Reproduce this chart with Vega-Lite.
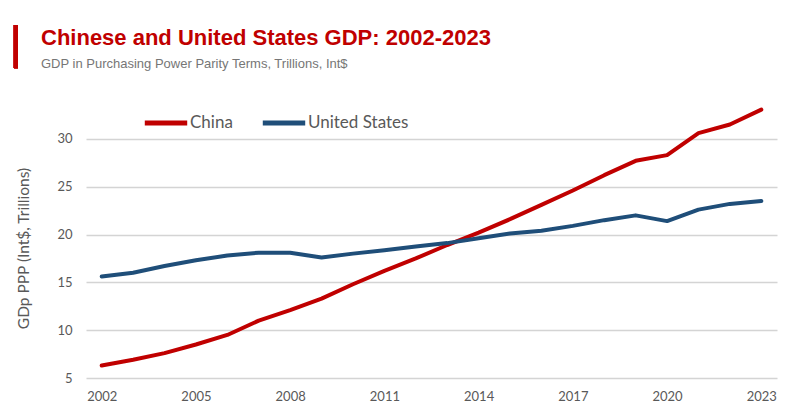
{
  "$schema": "https://vega.github.io/schema/vega-lite/v6.json",
  "autosize": "none",
  "width": 691,
  "height": 287,
  "padding": {"left": 86, "top": 91, "right": 23, "bottom": 42},
  "background": "white",
  "title": {
    "text": "Chinese and United States GDP: 2002-2023",
    "subtitle": "GDP in Purchasing Power Parity Terms, Trillions, Int$",
    "anchor": "start",
    "frame": "group",
    "dx": -45,
    "offset": -49,
    "font": "Liberation Sans",
    "fontSize": 22,
    "fontWeight": "bold",
    "color": "#C00000",
    "subtitleFont": "Liberation Sans",
    "subtitleFontSize": 13,
    "subtitleColor": "#767676",
    "subtitlePadding": 8
  },
  "config": {
    "view": {"stroke": null},
    "font": "Lato"
  },
  "data": {
    "values": [
      {"year": 2002, "country": "China", "gdp": 6.3},
      {"year": 2003, "country": "China", "gdp": 6.9},
      {"year": 2004, "country": "China", "gdp": 7.6},
      {"year": 2005, "country": "China", "gdp": 8.5},
      {"year": 2006, "country": "China", "gdp": 9.5},
      {"year": 2007, "country": "China", "gdp": 11.0},
      {"year": 2008, "country": "China", "gdp": 12.1},
      {"year": 2009, "country": "China", "gdp": 13.3},
      {"year": 2010, "country": "China", "gdp": 14.8},
      {"year": 2011, "country": "China", "gdp": 16.2},
      {"year": 2012, "country": "China", "gdp": 17.5},
      {"year": 2013, "country": "China", "gdp": 18.9},
      {"year": 2014, "country": "China", "gdp": 20.2},
      {"year": 2015, "country": "China", "gdp": 21.6},
      {"year": 2016, "country": "China", "gdp": 23.1},
      {"year": 2017, "country": "China", "gdp": 24.6},
      {"year": 2018, "country": "China", "gdp": 26.2},
      {"year": 2019, "country": "China", "gdp": 27.7},
      {"year": 2020, "country": "China", "gdp": 28.3},
      {"year": 2021, "country": "China", "gdp": 30.6},
      {"year": 2022, "country": "China", "gdp": 31.5},
      {"year": 2023, "country": "China", "gdp": 33.05},
      {"year": 2002, "country": "United States", "gdp": 15.6},
      {"year": 2003, "country": "United States", "gdp": 16.0},
      {"year": 2004, "country": "United States", "gdp": 16.7},
      {"year": 2005, "country": "United States", "gdp": 17.3},
      {"year": 2006, "country": "United States", "gdp": 17.8},
      {"year": 2007, "country": "United States", "gdp": 18.1},
      {"year": 2008, "country": "United States", "gdp": 18.1},
      {"year": 2009, "country": "United States", "gdp": 17.6},
      {"year": 2010, "country": "United States", "gdp": 18.0},
      {"year": 2011, "country": "United States", "gdp": 18.35},
      {"year": 2012, "country": "United States", "gdp": 18.75},
      {"year": 2013, "country": "United States", "gdp": 19.1},
      {"year": 2014, "country": "United States", "gdp": 19.6},
      {"year": 2015, "country": "United States", "gdp": 20.1},
      {"year": 2016, "country": "United States", "gdp": 20.4},
      {"year": 2017, "country": "United States", "gdp": 20.9},
      {"year": 2018, "country": "United States", "gdp": 21.5},
      {"year": 2019, "country": "United States", "gdp": 22.0},
      {"year": 2020, "country": "United States", "gdp": 21.4},
      {"year": 2021, "country": "United States", "gdp": 22.6},
      {"year": 2022, "country": "United States", "gdp": 23.2},
      {"year": 2023, "country": "United States", "gdp": 23.5}
    ]
  },
  "layer": [
    {
      "mark": {"type": "line", "strokeWidth": 4, "strokeCap": "round", "strokeJoin": "round"},
      "encoding": {
        "x": {
          "field": "year",
          "type": "quantitative",
          "scale": {"domain": [2001.5, 2023.5], "nice": false, "zero": false},
          "axis": {
            "values": [2002, 2005, 2008, 2011, 2014, 2017, 2020, 2023],
            "format": "d",
            "title": null,
            "grid": false,
            "domain": false,
            "ticks": false,
            "labelPadding": 12,
            "labelFontSize": 13,
            "labelColor": "#595959",
            "labelFont": "Lato"
          }
        },
        "y": {
          "field": "gdp",
          "type": "quantitative",
          "scale": {"domain": [5, 35], "nice": false, "zero": false},
          "axis": {
            "values": [5, 10, 15, 20, 25, 30],
            "title": "GDp PPP (Int$, Trillions)",
            "titleFont": "Lato",
            "titleFontSize": 15.5,
            "titleFontWeight": "normal",
            "titleColor": "#595959",
            "titlePadding": 25,
            "titleY": 157,
            "grid": true,
            "gridColor": "#D4D4D4",
            "gridWidth": 1.5,
            "domain": false,
            "ticks": false,
            "labelPadding": 14,
            "labelFontSize": 13,
            "labelColor": "#595959",
            "labelFont": "Lato"
          }
        },
        "color": {
          "field": "country",
          "type": "nominal",
          "scale": {"domain": ["China", "United States"], "range": ["#C00000", "#1F4E79"]},
          "legend": {
            "title": null,
            "orient": "none",
            "direction": "horizontal",
            "legendX": 56,
            "legendY": 8,
            "symbolType": "stroke",
            "symbolStrokeWidth": 5,
            "symbolSize": 1800,
            "labelFont": "Lato",
            "labelFontSize": 17,
            "labelColor": "#595959",
            "labelOffset": 0,
            "columnPadding": 19
          }
        }
      }
    },
    {
      "mark": {"type": "rule", "color": "#C00000", "strokeWidth": 4, "clip": false},
      "encoding": {
        "x": {"datum": 1999.27, "type": "quantitative"},
        "y": {"datum": 41.9, "type": "quantitative"},
        "y2": {"datum": 37.4}
      }
    }
  ]
}
